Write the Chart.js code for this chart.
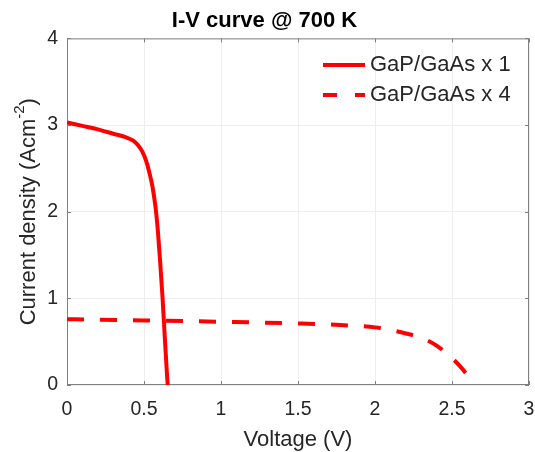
<!DOCTYPE html>
<html>
<head>
<meta charset="utf-8">
<script src="https://cdn.jsdelivr.net/npm/chart.js@4.4.1/dist/chart.umd.min.js"></script>
<style>
html, body { margin: 0; padding: 0; background: #fff; }
</style>
</head>
<body>
<canvas id="chart1" width="535" height="452"></canvas>
<script>
// values
const volt1 = [0, 0.1, 0.2, 0.3, 0.38, 0.43, 0.46, 0.49, 0.515, 0.535, 0.555, 0.575, 0.59, 0.605, 0.62, 0.635, 0.65, 0.654];
const curr1 = [3.03, 2.99, 2.95, 2.90, 2.86, 2.82, 2.77, 2.69, 2.58, 2.45, 2.29, 2.05, 1.78, 1.42, 1.02, 0.55, 0.1, 0];
const volt4 = [0, 0.5, 1.0, 1.5, 1.8, 2.0, 2.1, 2.2, 2.3, 2.4, 2.5, 2.55, 2.6, 2.635];
const curr4 = [0.76, 0.745, 0.73, 0.71, 0.69, 0.665, 0.635, 0.595, 0.545, 0.455, 0.31, 0.22, 0.11, 0];
const xTicks = [0, 0.5, 1, 1.5, 2, 2.5, 3];
const yTicks = [0, 1, 2, 3, 4];
const seriesLabels = ['GaP/GaAs x 1', 'GaP/GaAs x 4'];
const titleText = 'I-V curve @ 700 K';
const xTitle = 'Voltage (V)';

const FONT = "'Liberation Sans', Arial, Helvetica, sans-serif";
const TXT = '#262626';
const RED = '#ff0000';

const toPoints = (xs, ys) => xs.map((v, i) => ({x: v, y: ys[i]}));

const frame = {
    id: 'frame',
    beforeDatasetsDraw(chart) {
        const {ctx, chartArea: a, scales: {x, y}} = chart;
        ctx.save();
        ctx.strokeStyle = '#808080';
        ctx.lineWidth = 1;
        ctx.strokeRect(a.left + 0.5, a.top + 0.5, a.width - 1, a.height - 1);
        ctx.beginPath();
        xTicks.forEach(v => {
            const px = Math.round(x.getPixelForValue(v)) + 0.5;
            ctx.moveTo(px, a.bottom); ctx.lineTo(px, a.bottom - 4);
            ctx.moveTo(px, a.top); ctx.lineTo(px, a.top + 4);
        });
        yTicks.forEach(v => {
            const py = Math.round(y.getPixelForValue(v)) + 0.5;
            ctx.moveTo(a.left, py); ctx.lineTo(a.left + 4, py);
            ctx.moveTo(a.right, py); ctx.lineTo(a.right - 4, py);
        });
        ctx.stroke();
        ctx.restore();
    },
    afterDraw(chart) {
        const {ctx, chartArea: a} = chart;
        ctx.save();
        // legend (no box)
        const rows = [65, 95];
        chart.data.datasets.forEach((ds, i) => {
            ctx.strokeStyle = ds.borderColor;
            ctx.lineWidth = 4;
            ctx.setLineDash(i === 0 ? [] : [14, 18]);
            ctx.beginPath();
            ctx.moveTo(323, rows[i]);
            ctx.lineTo(365, rows[i]);
            ctx.stroke();
            ctx.setLineDash([]);
            ctx.fillStyle = TXT;
            ctx.font = '22px ' + FONT;
            ctx.textBaseline = 'middle';
            ctx.textAlign = 'left';
            ctx.fillText(ds.label, 370, rows[i]);
        });
        // y title with superscript
        const main = 'Current density (Acm', sup = '-2', tail = ')';
        ctx.translate(29, (a.top + a.bottom) / 2);
        ctx.rotate(-Math.PI / 2);
        ctx.font = '22px ' + FONT;
        const w1 = ctx.measureText(main).width, w3 = ctx.measureText(tail).width;
        ctx.font = '15px ' + FONT;
        const w2 = ctx.measureText(sup).width;
        let x0 = -(w1 + w2 + w3) / 2;
        ctx.fillStyle = TXT;
        ctx.textAlign = 'left';
        ctx.textBaseline = 'middle';
        ctx.font = '22px ' + FONT;
        ctx.fillText(main, x0, 0);
        ctx.font = '15px ' + FONT;
        ctx.fillText(sup, x0 + w1, -9);
        ctx.font = '22px ' + FONT;
        ctx.fillText(tail, x0 + w1 + w2, 0);
        ctx.restore();
    }
};

const config = {
    type: 'line',
    data: {
        datasets: [{
            label: seriesLabels[0],
            borderColor: RED,
            borderWidth: 4,
            pointRadius: 0,
            cubicInterpolationMode: 'monotone',
            data: toPoints(volt1, curr1)
        }, {
            label: seriesLabels[1],
            borderColor: RED,
            borderWidth: 4,
            borderDash: [17, 16],
            pointRadius: 0,
            cubicInterpolationMode: 'monotone',
            data: toPoints(volt4, curr4)
        }]
    },
    options: {
        responsive: false,
        animation: false,
        layout: {padding: {left: 0, right: 6, top: 0, bottom: 0}},
        plugins: {
            legend: {display: false},
            tooltip: {enabled: false},
            title: {
                display: true,
                text: titleText,
                color: '#000',
                font: {family: FONT, size: 22, weight: 'bold'},
                padding: {top: 8, bottom: 4}
            }
        },
        scales: {
            x: {
                type: 'linear',
                min: 0,
                max: 3,
                afterFit: s => { s.height = 67; s.paddingRight = 0; },
                afterBuildTicks: s => { s.ticks = xTicks.map(v => ({value: v})); },
                grid: {color: '#eeeeee', drawTicks: false},
                border: {display: false},
                ticks: {color: TXT, font: {family: FONT, size: 19.5}, padding: 13, maxRotation: 0,
                    callback: v => String(v)},
                title: {
                    display: true,
                    text: xTitle,
                    color: TXT,
                    font: {family: FONT, size: 22, lineHeight: 1},
                    padding: {top: 0, bottom: 1}
                }
            },
            y: {
                type: 'linear',
                min: 0,
                max: 4,
                afterFit: s => { s.width = 67; },
                afterBuildTicks: s => { s.ticks = yTicks.map(v => ({value: v})); },
                grid: {color: '#eeeeee', drawTicks: false},
                border: {display: false},
                ticks: {color: TXT, font: {family: FONT, size: 19.5}, padding: 9,
                    callback: v => String(v)}
            }
        }
    },
    plugins: [frame]
};

const ctx1 = document.getElementById('chart1').getContext('2d');
const chart1 = new Chart(ctx1, config);
</script>
</body>
</html>
